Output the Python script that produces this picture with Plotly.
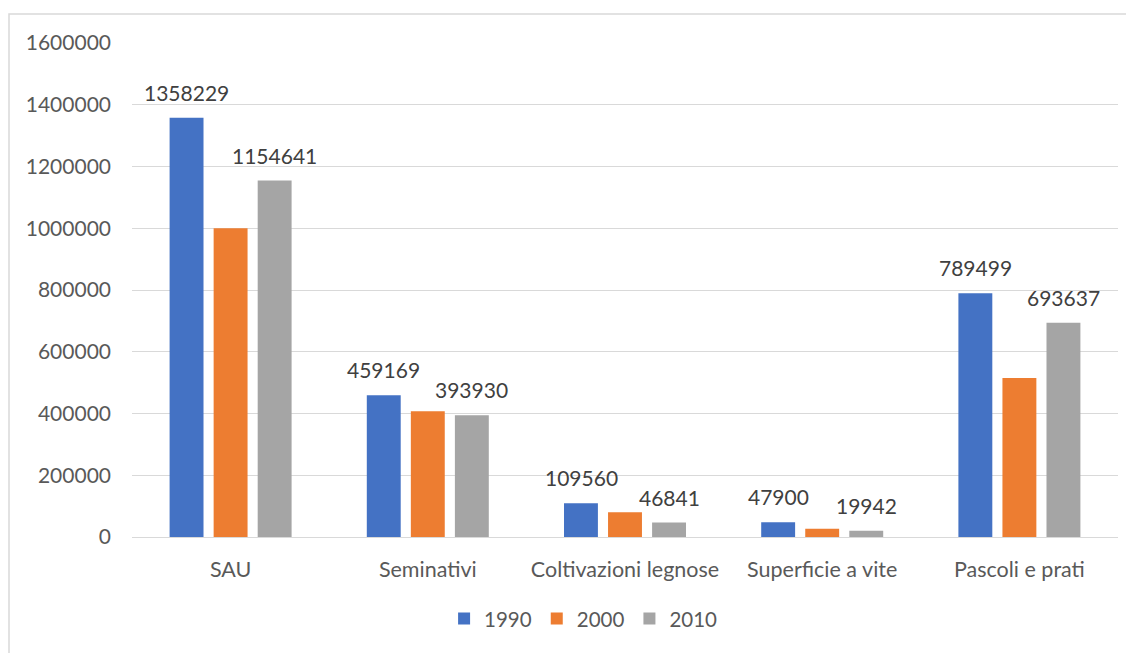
import plotly.graph_objects as go

categories = ["SAU", "Seminativi", "Coltivazioni legnose", "Superficie a vite", "Pascoli e prati"]
years = ["1990", "2000", "2010"]
values_1990 = [1358229, 459169, 109560, 47900, 789499]
values_2000 = [1000000, 407000, 80000, 27000, 515000]
values_2010 = [1154641, 393930, 46841, 19942, 693637]
show_labels = [True, False, True]
colors = ["#4472C4", "#ED7D31", "#A5A5A5"]

FONT = "Lato, Open Sans, sans-serif"
# page body adds an 8px margin, so the figure is sized to fit the window
W, H = 1126, 645
L, R, T, B = 124, 16, 35, 116
BAR_PITCH = 44  # px between bar centres inside a group

fig = go.Figure()
series = [values_1990, values_2000, values_2010]
for i, (name, vals, col, lab) in enumerate(zip(years, series, colors, show_labels)):
    fig.add_trace(go.Bar(x=categories, y=vals, name=name, marker_color=col, marker_line_width=0))
    if lab:
        for c, v in zip(categories, vals):
            fig.add_annotation(x=c, y=v, text=str(v), showarrow=False, xref="x", yref="y",
                               xshift=(i - 1) * BAR_PITCH, yshift=11, yanchor="bottom",
                               font=dict(size=21, color="#404040", family=FONT))

# outer chart border (as in the spreadsheet export)
pw, ph = W - L - R, H - T - B
def px_x(p): return (p - L) / pw
def px_y(p): return (H - B - p) / ph
fig.add_shape(type="rect", xref="paper", yref="paper",
              x0=px_x(1), x1=px_x(1150), y0=px_y(6), y1=px_y(670),
              line=dict(color="#D9D9D9", width=1.5), layer="below")

fig.update_yaxes(range=[0, 1600000], dtick=200000, tickformat="d", automargin=False,
                 gridcolor="#D9D9D9", gridwidth=1, zeroline=False,
                 tickfont=dict(size=21, color="#595959", family=FONT), ticks="", ticklabelstandoff=20)
fig.update_xaxes(showline=True, linecolor="#D9D9D9", linewidth=1, automargin=False,
                 tickfont=dict(size=21.5, color="#595959", family=FONT), ticklabelstandoff=13)
fig.update_layout(
    width=W, height=H, margin=dict(l=L, r=R, t=T, b=B, autoexpand=False),
    plot_bgcolor="white", paper_bgcolor="white",
    barmode="group", bargap=0.33, bargroupgap=0.23,
    showlegend=True,
    legend=dict(orientation="h", x=0.458, xanchor="center", y=-0.125, yanchor="top",
                font=dict(size=20.5, color="#595959", family=FONT), itemwidth=30),
)

fig.write_html("out.html")
